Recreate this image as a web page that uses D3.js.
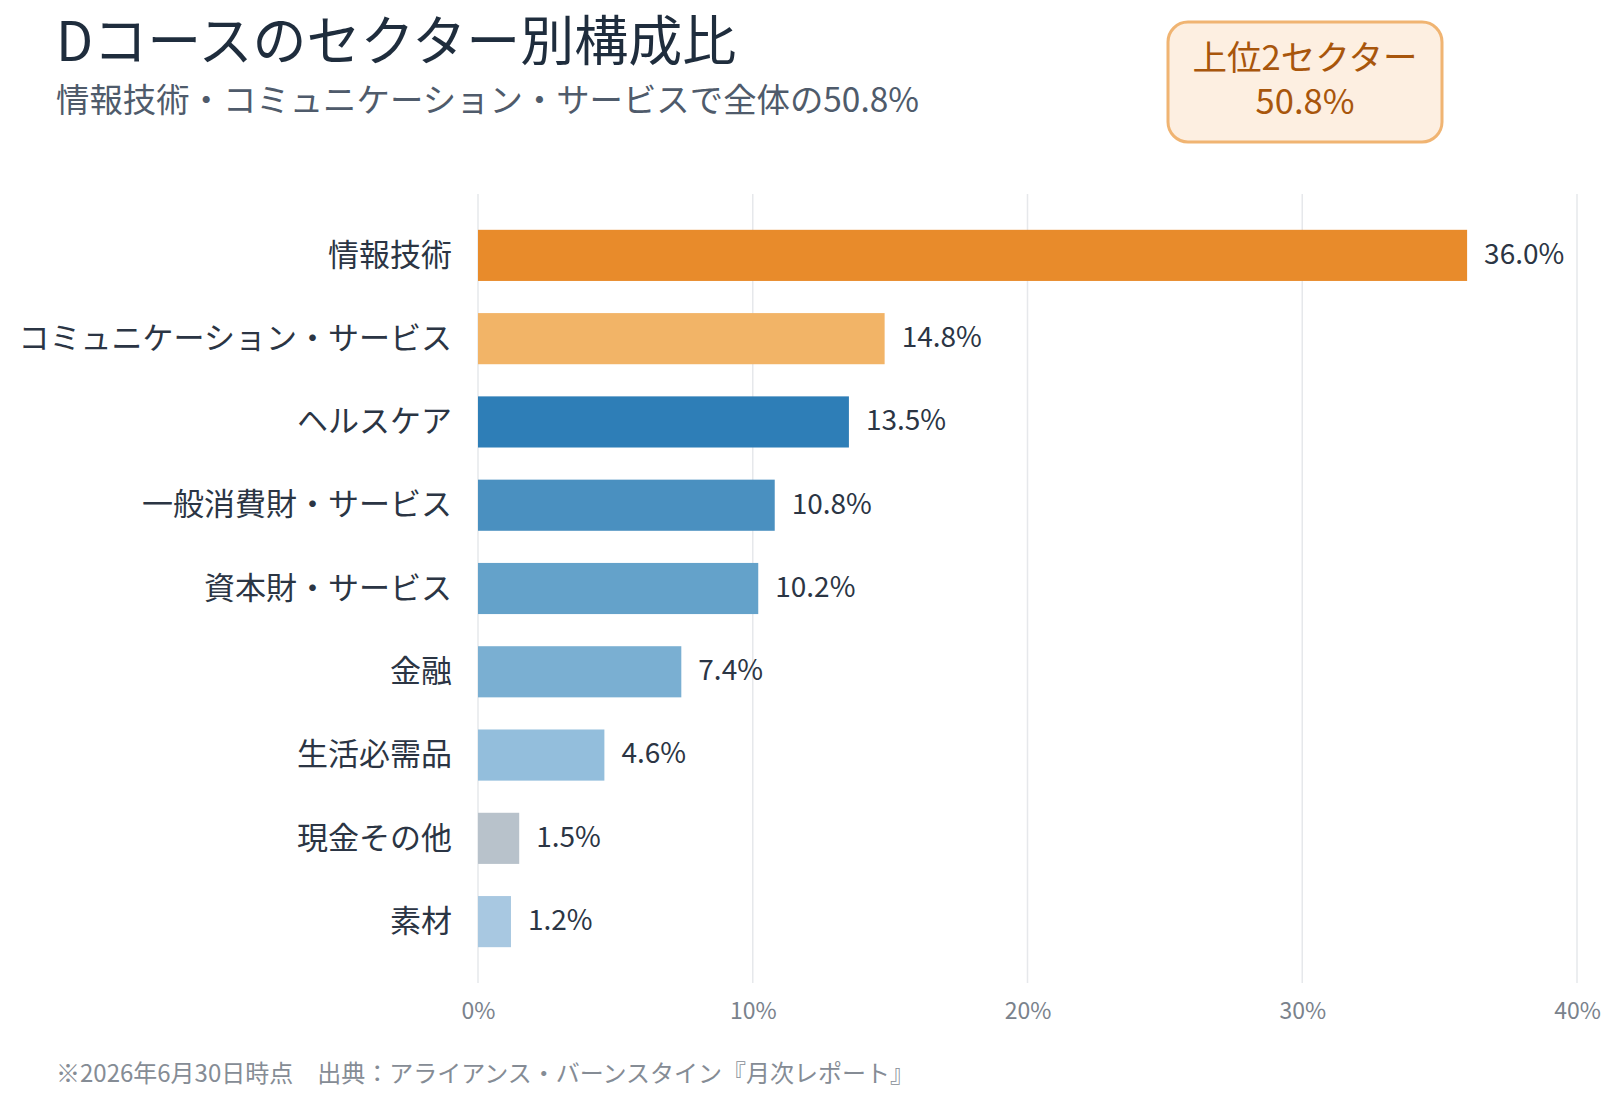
<!DOCTYPE html>
<html>
<head>
<meta charset="utf-8">
<script src="https://cdn.jsdelivr.net/npm/d3@7"></script>
<style>
  html, body { margin: 0; padding: 0; background: #fff; }
  svg { display: block; font-family: "Noto Sans CJK JP", "Noto Sans", sans-serif; }
</style>
</head>
<body>
<div id="chart"></div>
<script>
// sectors, top to bottom
var sectors = ["情報技術", "コミュニケーション・サービス", "ヘルスケア", "一般消費財・サービス",
  "資本財・サービス", "金融", "生活必需品", "現金その他", "素材"];
var shares = [36.0, 14.8, 13.5, 10.8, 10.2, 7.4, 4.6, 1.5, 1.2];
var barColors = ["#e88b2b", "#f2b467", "#2e7eb7", "#4a90c0", "#64a2ca", "#7aafd2",
  "#93bedc", "#b8c2cb", "#a8c8e1"];
var xTicks = [0, 10, 20, 30, 40];

var title = "Dコースのセクター別構成比";
var subtitle = "情報技術・コミュニケーション・サービスで全体の50.8%";
var badgeLines = ["上位2セクター", "50.8%"];
var footnote = "※2026年6月30日時点\u3000出典：アライアンス・バーンスタイン『月次レポート』";

var width = 1615, height = 1098;
var plot = {left: 478, right: 1577, top: 194, bottom: 983};

var svg = d3.select("#chart").append("svg")
  .attr("width", width)
  .attr("height", height);

var x = d3.scaleLinear().domain([0, 40]).range([plot.left, plot.right]);
var y = d3.scaleBand().domain(sectors).range([plot.top, plot.bottom])
  .paddingInner(0.386).paddingOuter(0.43);

// grid
svg.append("g").selectAll("line")
  .data(xTicks)
  .enter().append("line")
  .attr("x1", function(d){ return x(d); })
  .attr("x2", function(d){ return x(d); })
  .attr("y1", plot.top)
  .attr("y2", plot.bottom)
  .attr("stroke", "#e6e8eb")
  .attr("stroke-width", 1.5);

// x axis labels
var xAxis = d3.axisBottom(x).tickValues(xTicks).tickSize(0).tickPadding(0)
  .tickFormat(function(d){ return d + "%"; });
var xg = svg.append("g").attr("transform", "translate(0," + plot.bottom + ")").call(xAxis);
xg.select(".domain").remove();
xg.selectAll("text")
  .attr("dy", null)
  .attr("y", 36)
  .attr("fill", "#7a828c")
  .style("font-size", "23px")
  .style("font-family", "'Noto Sans CJK JP', sans-serif");

// bars
svg.append("g").selectAll("rect")
  .data(sectors)
  .enter().append("rect")
  .attr("x", x(0))
  .attr("y", function(d){ return y(d); })
  .attr("width", function(d, i){ return x(shares[i]) - x(0); })
  .attr("height", y.bandwidth())
  .attr("fill", function(d, i){ return barColors[i]; });

// category labels
svg.append("g").selectAll("text")
  .data(sectors)
  .enter().append("text")
  .attr("x", x(0) - 26)
  .attr("y", function(d){ return y(d) + y.bandwidth() / 2; })
  .attr("dy", "0.33em")
  .attr("text-anchor", "end")
  .attr("fill", "#2b3544")
  .style("font-size", "31px")
  .text(function(d){ return d; });

// value labels
svg.append("g").selectAll("text")
  .data(sectors)
  .enter().append("text")
  .attr("x", function(d, i){ return x(shares[i]) + 17; })
  .attr("y", function(d){ return y(d) + y.bandwidth() / 2; })
  .attr("dy", "0.3em")
  .attr("fill", "#2b3544")
  .style("font-size", "28px")
  .text(function(d, i){ return shares[i].toFixed(1) + "%"; });

// title block
svg.append("text")
  .attr("x", 56).attr("y", 61)
  .attr("fill", "#1f2d3d")
  .style("font-size", "54px")
  .style("font-weight", 400)
  .text(title);

svg.append("text")
  .attr("x", 56).attr("y", 112)
  .attr("fill", "#4f5b6b")
  .style("font-size", "33.4px")
  .text(subtitle);

// badge
var badge = svg.append("g");
badge.append("rect")
  .attr("x", 1168).attr("y", 22)
  .attr("width", 274).attr("height", 120)
  .attr("rx", 20)
  .attr("fill", "#fdefe1")
  .attr("stroke", "#f0b472")
  .attr("stroke-width", 3);
badge.selectAll("text")
  .data(badgeLines)
  .enter().append("text")
  .attr("x", 1305)
  .attr("y", function(d, i){ return 70 + i * 44; })
  .attr("text-anchor", "middle")
  .attr("fill", "#a8560c")
  .style("font-size", "34.5px")
  .text(function(d){ return d; });

// footnote
svg.append("text")
  .attr("x", 56).attr("y", 1082)
  .attr("fill", "#858c95")
  .style("font-size", "24px")
  .text(footnote);
</script>
</body>
</html>
